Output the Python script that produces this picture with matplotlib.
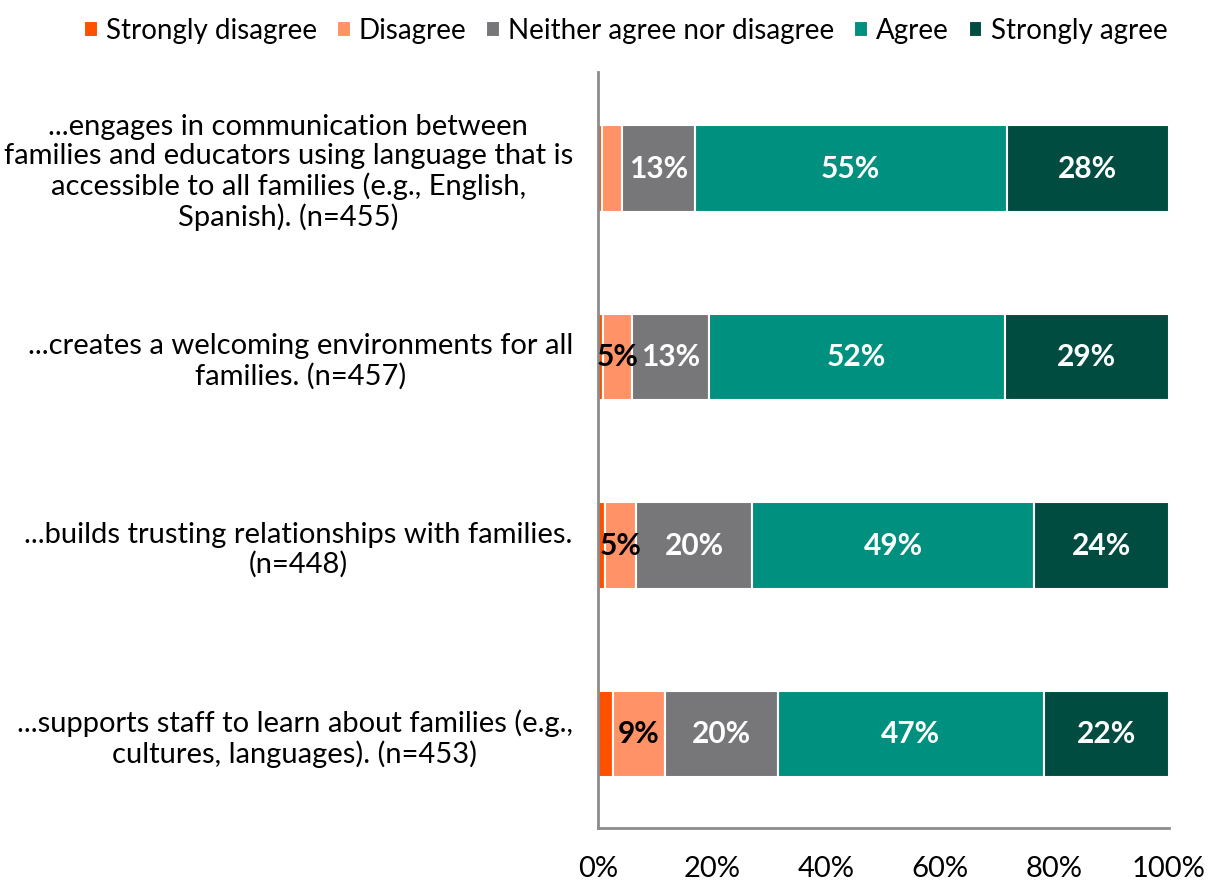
import matplotlib
matplotlib.use("Agg")
import matplotlib.pyplot as plt
import numpy as np

plt.rcParams['font.family'] = ['Lato', 'DejaVu Sans']

# data
categories = [
    "...engages in communication between\nfamilies and educators using language that is\naccessible to all families (e.g., English,\nSpanish). (n=455)",
    "...creates a welcoming environments for all\nfamilies. (n=457)",
    "...builds trusting relationships with families.\n(n=448)",
    "...supports staff to learn about families (e.g.,\ncultures, languages). (n=453)",
]
series_names = ["Strongly disagree", "Disagree", "Neither agree nor disagree", "Agree", "Strongly agree"]
strongly_disagree = [0.8, 0.9, 1.3, 2.6]
disagree = [3.4, 5.1, 5.4, 9.2]
neither = [12.8, 13.4, 20.3, 19.7]
agree = [54.6, 51.9, 49.4, 46.6]
strongly_agree = [28.4, 28.7, 23.6, 21.9]
colors = ["#FF5000", "#FF9266", "#777779", "#00907F", "#004C40"]
label_colors = ["white", "black", "white", "white", "white"]

values = [strongly_disagree, disagree, neither, agree, strongly_agree]

fig = plt.figure(figsize=(12.15, 8.84), dpi=100)
ax = fig.add_axes([0.492, 0.063, 0.470, 0.856])

y = np.arange(len(categories))
left = np.zeros(len(categories))
for name, vals, col, lc in zip(series_names, values, colors, label_colors):
    vals = np.array(vals)
    ax.barh(y, vals, left=left, height=0.46, color=col,
            edgecolor="white", linewidth=1.5, label=name)
    for i, v in enumerate(vals):
        if v >= 4.5:
            ax.text(left[i] + v / 2, y[i], f"{round(v):.0f}%", ha="center", va="center",
                    color=lc, fontsize=21.5, fontweight="bold")
    left += vals

ax.set_xlim(0, 100)
ax.set_ylim(3.5, -0.515)
ax.set_xticks([0, 20, 40, 60, 80, 100])
ax.set_xticklabels([f"{t}%" for t in [0, 20, 40, 60, 80, 100]], fontsize=21)
ax.set_yticks(y)
ax.set_yticklabels(categories, fontsize=21, ha="right", multialignment="center",
                   linespacing=1.15)
ax.tick_params(axis="y", length=0, pad=18)
ax.tick_params(axis="x", length=0, pad=20)
for s in ["top", "right"]:
    ax.spines[s].set_visible(False)
for s in ["left", "bottom"]:
    ax.spines[s].set_color("#8C8C8C")
    ax.spines[s].set_linewidth(2)

fig.legend(loc="upper center", bbox_to_anchor=(0.515, 1.008), ncol=5, frameon=False,
           fontsize=20, handlelength=0.5, handleheight=0.5, handletextpad=0.3,
           columnspacing=0.7)

fig.savefig("out.png", dpi=100)
